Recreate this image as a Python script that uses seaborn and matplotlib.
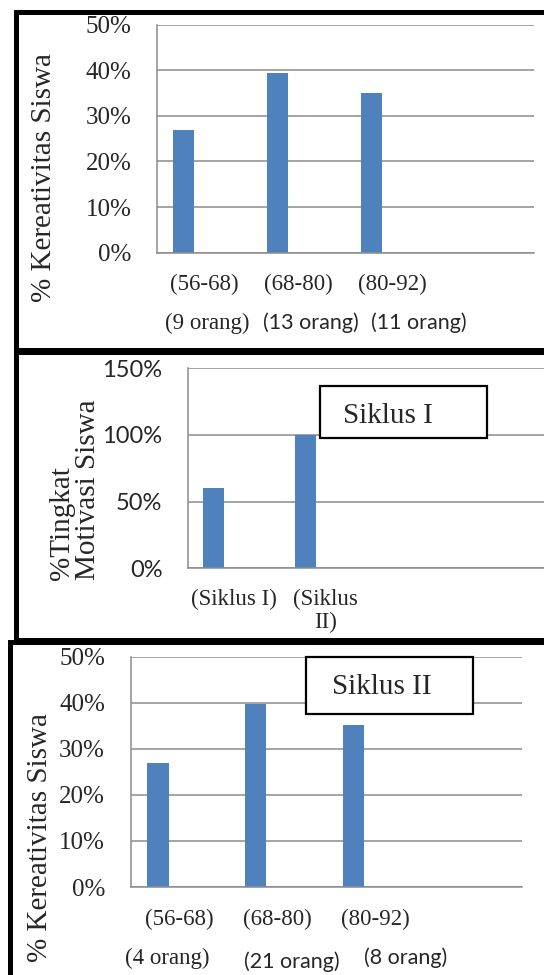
import matplotlib
matplotlib.use('Agg')
import matplotlib.pyplot as plt
from matplotlib.patches import Rectangle
from matplotlib.ticker import PercentFormatter
import seaborn as sns
import pandas as pd
import numpy as np

# data
ranges = ['(56-68)', '(68-80)', '(80-92)', '']
kreativitas_siklus1 = [0.27, 0.394, 0.35]
orang_siklus1 = ['(9 orang)', '(13 orang)', '(11 orang)']

siklus_labels = ['(Siklus I)', '(Siklus\nII)', '', '']
motivasi = [0.60, 1.00]

kreativitas_siklus2 = [0.27, 0.396, 0.351]
orang_siklus2 = ['(4 orang)', '(21 orang)', '(8 orang)']

SERIF = 'Liberation Serif'
SANS = 'Lato'
BLUE = '#4F81BD'
GRID = '#8C8C8C'
W, H = 544, 975

sns.set_style('white')
plt.rcParams['font.family'] = [SERIF, 'DejaVu Sans']

fig = plt.figure(figsize=(W / 100, H / 100), dpi=100)


def px_axes(left, right, top, bottom):
    """Add axes from pixel edges of the reference picture."""
    return fig.add_axes([left / W, 1 - bottom / H, (right - left) / W, (bottom - top) / H])


def bar_panel(ax, cats, values, ymax, ystep, ytick_family):
    slots = ['c%d' % i for i in range(len(cats))]
    df = pd.DataFrame({'cat': slots[:len(values)], 'val': values, 'series': 's1'})
    # Excel-style cluster of three series where only the first one holds data
    sns.barplot(data=df, x='cat', y='val', hue='series', order=slots,
                hue_order=['s1', 's2', 's3'], dodge=True, saturation=1,
                palette={'s1': BLUE, 's2': '#C0504D', 's3': '#9BBB59'},
                width=0.66, linewidth=0, legend=False, ax=ax)
    ax.set_ylim(0, ymax)
    ax.set_yticks(np.arange(0, ymax + 1e-9, ystep))
    ax.yaxis.set_major_formatter(PercentFormatter(1.0, decimals=0))
    ax.yaxis.grid(True, color=GRID, linewidth=1.1)
    ax.set_axisbelow(True)
    for s in ['top', 'right']:
        ax.spines[s].set_visible(False)
    for s in ['left', 'bottom']:
        ax.spines[s].set_color(GRID)
        ax.spines[s].set_linewidth(1.1)
    ax.set_xlabel('')
    ax.set_ylabel('')
    ax.tick_params(axis='y', direction='out', length=5.8, width=1.1, color=GRID,
                   pad=12.5, labelsize=18 if ytick_family == SERIF else 17)
    for t in ax.get_yticklabels():
        t.set_family(ytick_family)
    ax.set_xticks(range(len(cats)))
    ax.set_xticklabels(cats, family=SERIF, fontsize=16.5, linespacing=1.15)
    ax.tick_params(axis='x', which='major', length=0, pad=15.5)
    ax.set_xticks(np.arange(-0.5, len(cats)), minor=True)
    ax.tick_params(axis='x', which='minor', direction='out', length=4.5, width=1.1, color=GRID)


def note_box(ax, x0, y0, w, h, tx, ty, text):
    ax.add_patch(Rectangle((x0, y0), w, h, transform=ax.transAxes, facecolor='white',
                           edgecolor='black', linewidth=1.6, clip_on=False, zorder=5))
    ax.text(tx, ty, text, transform=ax.transAxes, ha='center', va='center',
            family=SERIF, fontsize=21, zorder=6)


# panel 1: kreativitas siklus I
ax1 = px_axes(156.8, 534, 25, 252.5)
bar_panel(ax1, ranges, kreativitas_siklus1, 0.5, 0.1, SERIF)
ax1.text(-0.300, 0.330, '% Kereativitas Siswa', transform=ax1.transAxes, rotation=90,
         ha='center', va='center', family=SERIF, fontsize=21)
fams1 = [SERIF, SANS, SANS]
offs1 = [0.035, 0.138, 0.281]
for i, lab in enumerate(orang_siklus1):
    ax1.text(i + offs1[i], -0.31, lab, transform=ax1.get_xaxis_transform(),
             ha='center', va='center', family=fams1[i],
             fontsize=16.5 if fams1[i] == SERIF else 15.5)

# panel 2: motivasi
ax2 = px_axes(187.8, 555.4, 368.3, 568.3)
bar_panel(ax2, siklus_labels, motivasi, 1.5, 0.5, SANS)
ax2.tick_params(axis='x', which='major', pad=14.5)
ax2.text(-0.3055, -0.0585, '%Tingkat\nMotivasi Siswa', transform=ax2.transAxes, rotation=90,
         ha='center', va='bottom', multialignment='left', linespacing=1.0,
         family=SERIF, fontsize=21)
note_box(ax2, 0.360, 0.653, 0.4535, 0.26, 0.544, 0.7615, 'Siklus I')

# panel 3: kreativitas siklus II
ax3 = px_axes(130.5, 521.5, 656.5, 887)
bar_panel(ax3, ranges, kreativitas_siklus2, 0.5, 0.1, SERIF)
ax3.text(-0.232, 0.213, '% Kereativitas Siswa', transform=ax3.transAxes, rotation=90,
         ha='center', va='center', family=SERIF, fontsize=21)
note_box(ax3, 0.4486, 0.7505, 0.4271, 0.2473, 0.642, 0.868, 'Siklus II')
fams3 = [SERIF, SANS, SANS]
offs3 = [-0.129, 0.148, 0.311]
ys3 = [-0.308, -0.325, -0.308]
for i, lab in enumerate(orang_siklus2):
    ax3.text(i + offs3[i], ys3[i], lab, transform=ax3.get_xaxis_transform(),
             ha='center', va='center', family=fams3[i],
             fontsize=16.5 if fams3[i] == SERIF else 15.5)

# black frames round each chart
for left, top, bottom in [(15.5, 11.5, 350), (15.5, 351.5, 639.5), (9.5, 641.5, 1100)]:
    fig.add_artist(Rectangle((left / W, 1 - bottom / H), (700 - left) / W, (bottom - top) / H,
                             transform=fig.transFigure, fill=False, edgecolor='black',
                             linewidth=3.6))

fig.savefig('out.png', dpi=100)
